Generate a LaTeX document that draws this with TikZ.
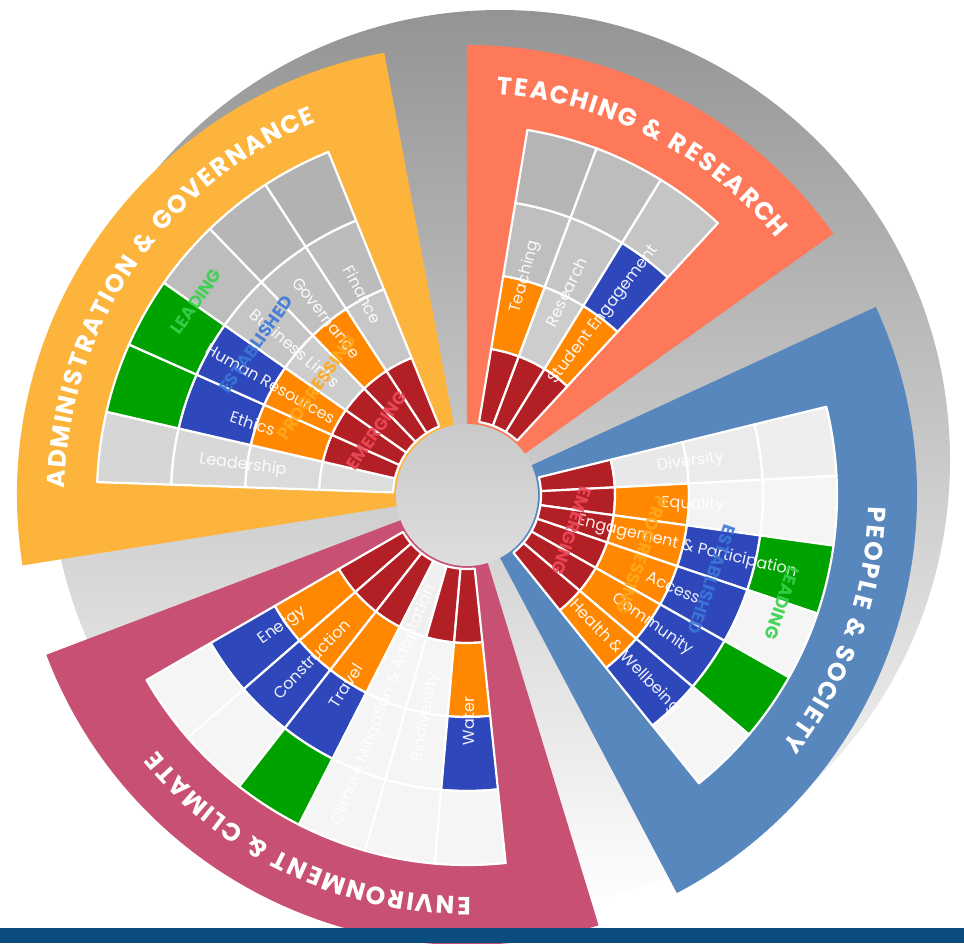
\documentclass[tikz,border=0pt]{standalone}
\usepackage{fontspec}
\setmainfont{Poppins}

\definecolor{admincol}{HTML}{FCB43C}
\definecolor{teachcol}{HTML}{FE785A}
\definecolor{peoplecol}{HTML}{5887BE}
\definecolor{envcol}{HTML}{C85073}
\definecolor{lvlone}{HTML}{B21F24}
\definecolor{lvltwo}{HTML}{FF8800}
\definecolor{lvlthree}{HTML}{2E48BC}
\definecolor{lvlfour}{HTML}{00A200}
\definecolor{txtone}{HTML}{EC4A5C}
\definecolor{txttwo}{HTML}{FFA91F}
\definecolor{txtthree}{HTML}{3C77D6}
\definecolor{txtfour}{HTML}{39D14B}
\definecolor{barblue}{HTML}{0A4C7E}

\tikzset{
  cell/.style={draw=white, line width=2.2pt, line join=round},
  topic/.style={text=white, text opacity=0.92, font=\fontsize{16}{16}\selectfont, inner sep=0pt},
  lvllabel/.style={font=\bfseries\fontsize{17.5}{17.5}\selectfont, text opacity=0.9, inner sep=0pt},
  titlechar/.style={text=white, font=\titlefmt, inner sep=0pt, anchor=base}
}
\newcommand{\titlefmt}{\bfseries\fontsize{25}{25}\selectfont}

% one topic: start angle, end angle, level, label, node name
\newcommand{\cellslice}[5]{%
  \pgfmathsetmacro{\amid}{(#1+#2)/2}
  \foreach \k/\cc in {1/lvlone,2/lvltwo,3/lvlthree,4/lvlfour}{
    \pgfmathsetmacro{\rin}{74*\k}
    \pgfmathsetmacro{\rout}{74*\k+74}
    \pgfmathsetmacro{\cx}{(\rin+37)*cos(\amid)}
    \pgfmathsetmacro{\cy}{(\rin+37)*sin(\amid)}
    \pgfmathsetmacro{\grayp}{min(96,88.3-0.06*\cy+0.0055*\cx+0.019*max(\cx,0))}
    \ifnum\k>#3 \colorlet{cellfill}{white!\grayp!black}\else\colorlet{cellfill}{\cc}\fi
    \filldraw[cell, fill=cellfill] (#1:\rin) arc[start angle=#1, end angle=#2, radius=\rin]
      -- (#2:\rout) arc[start angle=#2, end angle=#1, radius=\rout] -- cycle;
  }
  \pgfmathsetmacro{\labrot}{cos(\amid)<0.05 ? \amid+180 : \amid}
  \node[topic, rotate=\labrot] (#5) at (\amid:226) {#4};
}

% sector title, clockwise round the hub: name, centre angle, baseline radius, letter/width list
\newcommand{\arctitle}[4]{%
  \gdef\totw{0}%
  \foreach \ch/\w in {#4}{\pgfmathsetmacro{\newtot}{\totw+\w+1.5}\global\let\totw\newtot}%
  \gdef\cumw{0}%
  \foreach \ch/\w [count=\n] in {#4}{%
    \pgfmathsetmacro{\chang}{#2+(\totw/2-\cumw-(\w+1.5)/2)/#3*57.2958}%
    \node[titlechar, rotate=\chang-90] (#1-\n) at (\chang:#3) {\ch};
    \pgfmathsetmacro{\newcum}{\cumw+\w+1.5}\global\let\cumw\newcum
  }%
}

\begin{document}
\begin{tikzpicture}[x=1pt, y=1pt]
\useasboundingbox (-467,-448) rectangle (497,495);

% background disc
\shade[top color=black!42, middle color=black!17, bottom color=white] (33,35) circle (450);

% sector wedges
\fill[admincol] (0,0) -- (100.6:450) arc[start angle=100.6, end angle=189, radius=450] -- cycle;
\fill[teachcol] (0,0) -- (35.5:450) arc[start angle=35.5, end angle=90, radius=450] -- cycle;
\fill[envcol] (0,0) -- (200.8:450) arc[start angle=200.8, end angle=287, radius=450] -- cycle;
\fill[peoplecol] (0,0) -- (-62.2:450) arc[start angle=-62.2, end angle=24.7, radius=450] -- cycle;

% administration & governance
\foreach \lvl/\lab/\nm [count=\i from 0] in {0/Leadership/lead, 4/Ethics/ethics,
    4/Human Resources/hr, 1/Business Links/links, 2/Governance/gov, 1/Finance/fin}{
  \pgfmathsetmacro{\angA}{178-11*\i}
  \pgfmathsetmacro{\angB}{\angA-11}
  \cellslice{\angA}{\angB}{\lvl}{\lab}{\nm}
}
% teaching & research
\foreach \lvl/\lab/\nm [count=\i from 0] in {2/Teaching/teach, 1/Research/res,
    3/Student Engagement/student}{
  \pgfmathsetmacro{\angA}{80.6-11.1*\i}
  \pgfmathsetmacro{\angB}{\angA-11.1}
  \cellslice{\angA}{\angB}{\lvl}{\lab}{\nm}
}
% people & society
\foreach \lvl/\lab/\nm [count=\i from 0] in {1/Diversity/div, 2/Equality/equal,
    4/Engagement \& Participation/engage, 3/Access/access, 4/Community/comm,
    3/Health \& Wellbeing/health}{
  \pgfmathsetmacro{\angA}{13.8-10.83*\i}
  \pgfmathsetmacro{\angB}{\angA-10.83}
  \cellslice{\angA}{\angB}{\lvl}{\lab}{\nm}
}
% environment & climate
\foreach \lvl/\lab/\nm [count=\i from 0] in {3/Energy/energy, 3/Construction/constr,
    4/Travel/travel, 0/Climate Mitigation \& Adaptation/climate,
    1/Biodiversity/bio, 3/Water/water}{
  \pgfmathsetmacro{\angA}{210+11*\i}
  \pgfmathsetmacro{\angB}{\angA+11}
  \cellslice{\angA}{\angB}{\lvl}{\lab}{\nm}
}

% level names
\foreach \k/\txt/\cc in {1/EMERGING/txtone, 2/PROGRESSING/txttwo,
    3/ESTABLISHED/txtthree, 4/LEADING/txtfour}{
  \node[lvllabel, text=\cc, rotate=55] (adm-\k) at (144.5:{37+74*\k}) {\txt};
  \node[lvllabel, text=\cc, rotate=-109] (ppl-\k) at (-19:{37+74*\k}) {\txt};
}

% titles
\arctitle{admt}{145.5}{402}{A/18.5,D/18.5,M/22.5,I/7.5,N/19,I/7.5,S/15.5,T/15.5,R/17,A/18.5,
  T/15.5,I/7.5,O/20,N/19,~/7,\&/18,~/7,G/19,O/20,V/18,E/15,R/17,N/19,A/18.5,N/19,C/18,E/15}
\arctitle{teacht}{62.7}{402}{T/15.5,E/15,A/18.5,C/18,H/18.5,I/7.5,N/19,G/19,~/7,\&/18,~/7,
  R/17,E/15,S/15.5,E/15,A/18.5,R/17,C/18,H/18.5}
\arctitle{pplt}{-20}{402}{P/16,E/15,O/20,P/16,L/13.5,E/15,~/7,\&/18,~/7,
  S/15.5,O/20,C/18,I/7.5,E/15,T/15.5,Y/17}
\arctitle{envt}{245}{402}{E/15,N/19,V/18,I/7.5,R/17,O/20,N/19,M/22.5,E/15,N/19,T/15.5,~/7,\&/18,~/7,
  C/18,L/13.5,I/7.5,M/22.5,A/18.5,T/15.5,E/15}

% hub
\shade[top color=black!21, bottom color=black!13] (0,0) circle (71);

% bottom bar
\fill[barblue] (-467,-448) rectangle (497,-433);
\end{tikzpicture}
\end{document}
